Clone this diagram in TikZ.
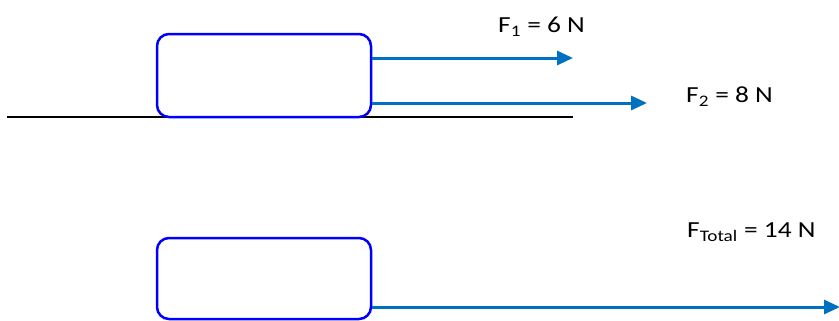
\documentclass[tikz,border=0pt]{standalone}
\usepackage{fontspec}
\setmainfont{Carlito}
\usetikzlibrary{arrows.meta}
\definecolor{boxblue}{RGB}{0,0,255}
\definecolor{forceblue}{RGB}{0,112,192}
\tikzset{%
    block/.style={%
        draw=boxblue, line width=2.5bp, rounded corners=12bp,
        minimum width=214bp, inner sep=0pt
    },
    force/.style={%
        -{Triangle[length=16bp,width=14bp]}, line width=3bp, color=forceblue
    },
    label/.style={%
        xscale=1.19, inner sep=0pt, anchor=base west,
        font=\fontsize{23bp}{27bp}\selectfont
    }
}
\begin{document}
\begin{tikzpicture}[x=1bp,y=-1bp]
    \useasboundingbox (0,0) rectangle (839,320);
    % ground
    \coordinate (g1) at (7,117);
    \coordinate (g2) at (573,117);
    \draw[line width=1.5bp] (g1)--(g2);
    % blocks
    \node[block, minimum height=83bp] (block1) at (264,75.5) {};
    \node[block, minimum height=81bp] (block2) at (264,278.5) {};
    % forces
    \coordinate (tip1) at (573,58);
    \coordinate (tip2) at (647,103);
    \coordinate (tip3) at (840,307);
    \draw[force] (block1.east |- tip1)--(tip1);
    \draw[force] (block1.east |- tip2)--(tip2);
    \draw[force] (block2.east |- tip3)--(tip3);
    \node[label] (f1) at (498,32.5) {F\textsubscript{1} = 6 N};
    \node[label] (f2) at (686,102.3) {F\textsubscript{2} = 8 N};
    \node[label] (ftot) at (687,237.3) {F\textsubscript{Total} = 14 N};
\end{tikzpicture}
\end{document}
